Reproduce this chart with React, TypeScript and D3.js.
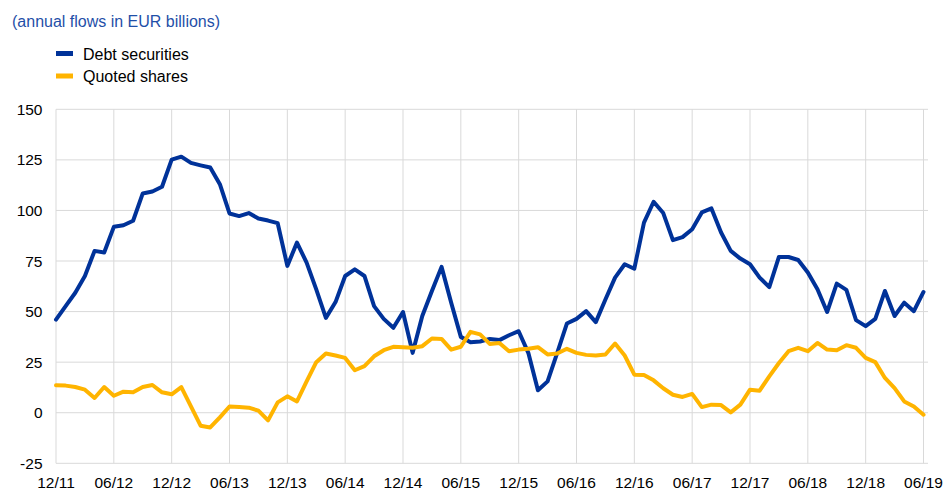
import React from "react";
import * as d3 from "d3";

const debtSecurities = [
  46, 52.7, 59.3, 67.6, 80, 79.2, 91.9, 92.7, 94.9, 108.4, 109.4, 111.7,
  125.1, 126.6, 123.5, 122.3, 121.2, 113, 98.5, 97.2, 98.7, 96, 95, 93.7,
  72.6, 84.1, 74.2, 61, 46.9, 54.7, 67.6, 70.9, 67.6, 52.7, 46.4, 42,
  49.8, 29.6, 47.8, 60.2, 72.1, 54.4, 37.5, 34.9, 35.2, 36.5, 35.9, 38.3,
  40.3, 29.6, 11.1, 15.5, 29.6, 44.1, 46.4, 50.2, 44.8, 56, 66.8, 73.4,
  71.2, 94, 104.3, 98.7, 85.3, 86.8, 90.7, 99, 101, 89.1, 80, 76.2,
  73.4, 66.8, 62.1, 77, 77, 75.5, 69.3, 61, 49.8, 63.8, 60.7, 45.8,
  42.8, 46.4, 60.2, 47.8, 54.4, 50.2, 59.7,
];

const quotedShares = [
  13.6, 13.4, 12.7, 11.4, 7.3, 12.7, 8.4, 10.4, 10.1, 12.7, 13.7, 10.1,
  9.1, 12.7, 3.1, -6.4, -7.3, -2.3, 3.1, 2.8, 2.5, 1, -3.8, 5.1,
  8.1, 5.6, 15.5, 25, 29.3, 28.3, 27.1, 21, 23, 27.9, 30.9, 32.6,
  32.4, 32.1, 32.9, 36.7, 36.5, 31.2, 32.6, 40, 38.7, 34, 34.5, 30.4,
  31.2, 31.6, 32.4, 28.8, 29.3, 31.6, 29.6, 28.6, 28.3, 28.8, 34.2, 28.3,
  18.8, 18.7, 16, 12.1, 8.9, 7.8, 9.3, 2.8, 4, 3.8, 0.2, 4,
  11.4, 10.9, 18, 24.6, 30.4, 32.1, 30.4, 34.5, 31.2, 30.9, 33.4, 32.1,
  27.1, 25, 17.2, 12.2, 5.6, 3.1, -1,
];

const xTickLabels = [
  "12/11", "06/12", "12/12", "06/13", "12/13", "06/14", "12/14", "06/15",
  "12/15", "06/16", "12/16", "06/17", "12/17", "06/18", "12/18", "06/19",
];
const yTicks = [-25, 0, 25, 50, 75, 100, 125, 150];

const seriesNames = ["Debt securities", "Quoted shares"];
const colors = ["#003299", "#ffb400"];

export default function App() {
  const W = 944;
  const H = 490;
  const x = d3.scaleLinear().domain([0, 90]).range([56, 923.5]);
  const y = d3.scaleLinear().domain([-25, 150]).range([463.3, 109.3]);
  const line = d3
    .line<number>()
    .x((_, i) => x(i))
    .y((d) => y(d));
  const font = "'Liberation Sans', Arial, sans-serif";
  const gridColor = "#d9d9d9";
  const plotRight = 928;

  return (
    <svg
      width={W}
      height={H}
      style={{ position: "absolute", left: 0, top: 0, background: "#fff" }}
      fontFamily={font}
    >
      <text x={12} y={27} fontSize={16} fill="#1f4fa8">
        (annual flows in EUR billions)
      </text>
      {seriesNames.map((n, i) => (
        <g key={n}>
          <rect x={56} y={51 + i * 22.5} width={17} height={5} fill={colors[i]} />
          <text x={83} y={60 + i * 22} fontSize={16} fill="#000">
            {n}
          </text>
        </g>
      ))}
      {yTicks.map((t) => (
        <g key={t}>
          <line
            x1={x(0)}
            x2={plotRight}
            y1={y(t)}
            y2={y(t)}
            stroke={gridColor}
            strokeWidth={1}
          />
          <text
            x={42.5}
            y={y(t) + 5.5}
            fontSize={15.5}
            textAnchor="end"
            fill="#000"
          >
            {t}
          </text>
        </g>
      ))}
      {xTickLabels.map((l, i) => (
        <g key={l}>
          <line
            x1={x(i * 6)}
            x2={x(i * 6)}
            y1={y(150)}
            y2={y(-25)}
            stroke={gridColor}
            strokeWidth={1}
          />
          <text
            x={x(i * 6)}
            y={488}
            fontSize={15.5}
            textAnchor="middle"
            fill="#000"
          >
            {l}
          </text>
        </g>
      ))}
      {[debtSecurities, quotedShares].map((s, i) => (
        <path
          key={i}
          d={line(s) || ""}
          fill="none"
          stroke={colors[i]}
          strokeWidth={4}
          strokeLinejoin="round"
          strokeLinecap="round"
        />
      ))}
    </svg>
  );
}
